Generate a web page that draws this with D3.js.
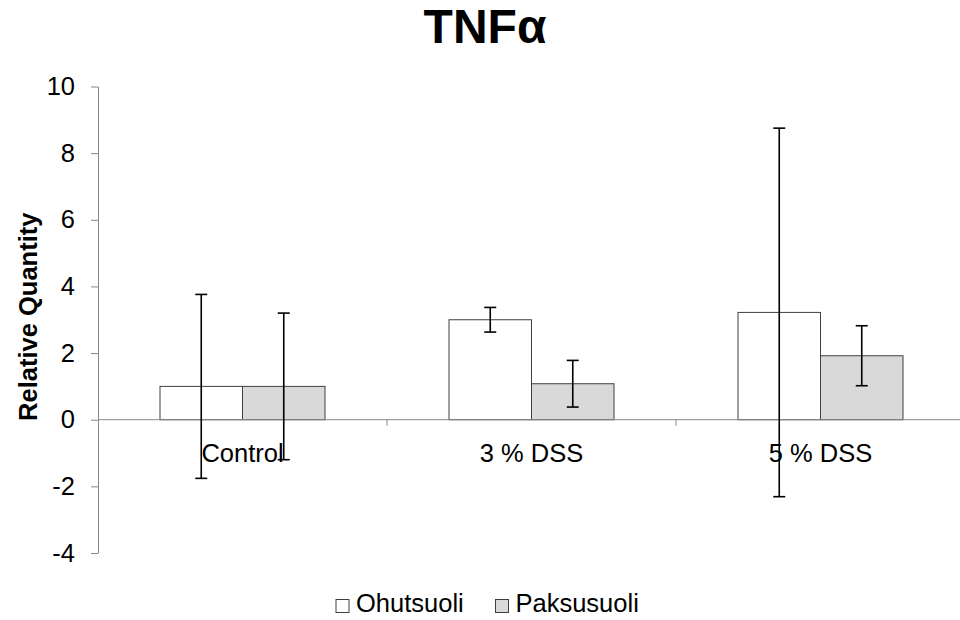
<!DOCTYPE html>
<html>
<head>
<meta charset="utf-8">
<script src="https://cdn.jsdelivr.net/npm/d3@7"></script>
<style>
  body { margin: 0; background: #fff; }
  svg { display: block; font-family: "Liberation Sans", Arial, sans-serif; }
</style>
</head>
<body>
<svg id="chart" width="960" height="620"></svg>
<script>
// Relative TNFα expression by treatment group, with error bars
const categories = ["Control", "3 % DSS", "5 % DSS"];
const seriesNames = ["Ohutsuoli", "Paksusuoli"];
const ohutsuoli = [1.0, 3.0, 3.22];
const ohutsuoliErr = [2.76, 0.37, 5.53];
const paksusuoli = [1.0, 1.08, 1.92];
const paksusuoliErr = [2.2, 0.7, 0.9];
const yTicks = [-4, -2, 0, 2, 4, 6, 8, 10];
const fills = ["#ffffff", "#d9d9d9"];

(function () {
  const svg = d3.select("#chart");
  const plotLeft = 98, plotRight = 965, plotTop = 86.5, plotBottom = 553;
  const fontSize = 25.5;

  const x = d3.scaleBand().domain(categories).range([plotLeft, plotRight]);
  const groupWidth = x.bandwidth() * 165 / 289;
  const xs = d3.scaleBand().domain(seriesNames).range([0, groupWidth]);
  const groupOffset = (x.bandwidth() - groupWidth) / 2;

  const y = d3.scaleLinear().domain([-4, 10]).range([plotBottom, plotTop]);

  // Title
  svg.append("text")
    .attr("x", 485).attr("y", 43)
    .attr("text-anchor", "middle")
    .attr("font-size", 48).attr("font-weight", "bold")
    .text("TNFα");

  // Y axis
  const yAxis = svg.append("g")
    .attr("transform", `translate(${plotLeft},0)`)
    .call(d3.axisLeft(y).tickValues(yTicks).tickFormat(d => String(d))
      .tickSize(7).tickPadding(16).tickSizeOuter(0));
  yAxis.select(".domain").attr("stroke", "#888");
  yAxis.selectAll(".tick line").attr("stroke", "#888");
  yAxis.selectAll(".tick text").attr("font-size", fontSize).attr("fill", "#000")
    .attr("font-family", "Liberation Sans, Arial, sans-serif");

  svg.append("text")
    .attr("transform", `translate(37,${(plotTop + plotBottom) / 2 - 3}) rotate(-90)`)
    .attr("text-anchor", "middle")
    .attr("font-size", fontSize).attr("font-weight", "bold")
    .text("Relative Quantity");

  const series = [
    { name: seriesNames[0], values: ohutsuoli, err: ohutsuoliErr, fill: fills[0] },
    { name: seriesNames[1], values: paksusuoli, err: paksusuoliErr, fill: fills[1] }
  ];

  // Bars
  series.forEach(s => {
    svg.append("g").selectAll("rect")
      .data(categories)
      .join("rect")
      .attr("x", c => x(c) + groupOffset + xs(s.name))
      .attr("width", xs.bandwidth())
      .attr("y", (c, i) => y(Math.max(0, s.values[i])))
      .attr("height", (c, i) => Math.abs(y(s.values[i]) - y(0)))
      .attr("fill", s.fill)
      .attr("stroke", "#404040")
      .attr("stroke-width", 1);
  });

  // Horizontal zero axis with category ticks
  svg.append("line")
    .attr("x1", plotLeft).attr("x2", plotRight)
    .attr("y1", y(0)).attr("y2", y(0))
    .attr("stroke", "#888");
  svg.append("g").selectAll("line")
    .data(categories)
    .join("line")
    .attr("x1", c => x(c) + x.step())
    .attr("x2", c => x(c) + x.step())
    .attr("y1", y(0)).attr("y2", y(0) + 6)
    .attr("stroke", "#888");

  // Category labels
  svg.append("g").selectAll("text")
    .data(categories)
    .join("text")
    .attr("x", c => x(c) + x.bandwidth() / 2)
    .attr("y", y(0) + 42.5)
    .attr("text-anchor", "middle")
    .attr("font-size", fontSize)
    .text(c => c);

  // Error bars
  const cap = 6;
  series.forEach(s => {
    const g = svg.append("g").attr("stroke", "#000").attr("stroke-width", 1.6);
    categories.forEach((c, i) => {
      const cx = x(c) + groupOffset + xs(s.name) + xs.bandwidth() / 2;
      const hi = y(s.values[i] + s.err[i]);
      const lo = y(s.values[i] - s.err[i]);
      g.append("line").attr("x1", cx).attr("x2", cx).attr("y1", hi).attr("y2", lo);
      g.append("line").attr("x1", cx - cap).attr("x2", cx + cap).attr("y1", hi).attr("y2", hi);
      g.append("line").attr("x1", cx - cap).attr("x2", cx + cap).attr("y1", lo).attr("y2", lo);
    });
  });

  // Legend
  const legendX = [336, 495.5];
  const legend = svg.append("g");
  series.forEach((s, i) => {
    legend.append("rect")
      .attr("x", legendX[i]).attr("y", 599.5)
      .attr("width", 13).attr("height", 13)
      .attr("fill", s.fill).attr("stroke", "#404040");
    legend.append("text")
      .attr("x", legendX[i] + 20).attr("y", 612)
      .attr("font-size", fontSize)
      .text(s.name);
  });
})();
</script>
</body>
</html>
